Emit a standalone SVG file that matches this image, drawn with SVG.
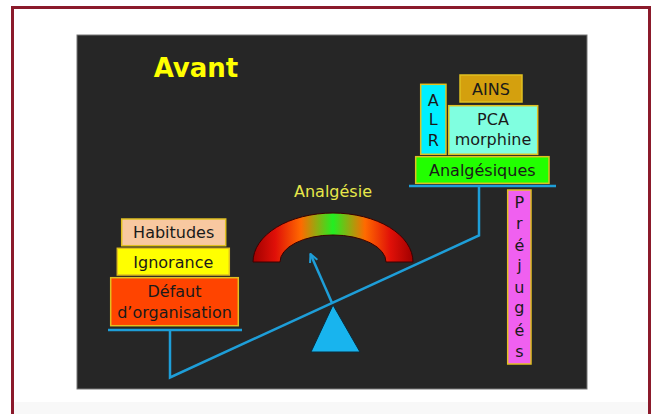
<svg xmlns="http://www.w3.org/2000/svg" width="653" height="414" viewBox="0 0 653 414">
<defs>
<style>
.box{stroke:#e0c020;stroke-width:1.5}
.t{font-family:"DejaVu Sans","Liberation Sans",sans-serif;font-size:16px;fill:#1a1a1a;text-anchor:middle}
.beam{stroke:#1e9ed8;stroke-width:2.5;fill:none}
</style>
<linearGradient id="g" x1="0" y1="0" x2="1" y2="0">
<stop offset="0" stop-color="#a00000"/>
<stop offset="0.14" stop-color="#e01008"/>
<stop offset="0.3" stop-color="#ff6a00"/>
<stop offset="0.5" stop-color="#22ee22"/>
<stop offset="0.7" stop-color="#ff6a00"/>
<stop offset="0.86" stop-color="#e01008"/>
<stop offset="1" stop-color="#a00000"/>
</linearGradient>
<marker id="arr" viewBox="0 0 10 10" refX="9" refY="5" markerWidth="4" markerHeight="4" orient="auto" markerUnits="strokeWidth">
<path d="M1,1 L9,5 L1,9" fill="none" stroke="#1e9ed8" stroke-width="2"/>
</marker>
</defs>
<rect x="0" y="0" width="653" height="414" fill="#ffffff"/>
<rect x="14" y="402" width="635" height="12" fill="#f8f8f8"/>
<rect x="12.5" y="7.5" width="637" height="430" fill="none" stroke="#8b1a2b" stroke-width="3"/>
<rect x="77" y="35" width="510" height="354" fill="#262626" stroke="#777" stroke-width="1"/>
<text x="196" y="77" font-family="DejaVu Sans,Liberation Sans,sans-serif" font-size="26" font-weight="bold" fill="#ffff00" text-anchor="middle">Avant</text>

<g id="gauge">
<path d="M253,262 A80,49 0 0 1 413,262 L386,262 A53,27 0 0 0 280,262 Z" fill="url(#g)" stroke="#3a0000" stroke-width="1"/>
<text x="333" y="197" font-family="DejaVu Sans,Liberation Sans,sans-serif" font-size="16" fill="#e8e84a" text-anchor="middle">Analgésie</text>
</g>

<g id="connectors">
<path class="beam" d="M108,330 H242"/>
<path class="beam" d="M170,330 V377.5 L479,235.5 V186"/>
<path class="beam" d="M409,186 H556"/>
<path class="beam" d="M332,303 L310.5,254" marker-end="url(#arr)"/>
</g>

<g id="fulcrum">
<polygon points="333,305 311,352 360,352" fill="#18b4ee" stroke="#0a2a3a" stroke-width="1"/>
</g>

<g id="habitudes">
<rect class="box" x="121.7" y="219" width="104" height="26.7" fill="#f8c8a0"/>
<text class="t" x="173.7" y="238">Habitudes</text>
</g>
<g id="ignorance">
<rect class="box" x="117.3" y="248.3" width="112" height="26.7" fill="#ffff00"/>
<text class="t" x="173.3" y="267.5">Ignorance</text>
</g>
<g id="defaut">
<rect class="box" x="110.7" y="277.7" width="127.6" height="48" fill="#ff4400"/>
<text class="t" x="174.5" y="296.5">Défaut</text>
<text class="t" x="174.5" y="318">d’organisation</text>
</g>

<g id="ains">
<rect class="box" x="460" y="75" width="62" height="27" fill="#d4a00e"/>
<text class="t" x="491" y="94.5">AINS</text>
</g>
<g id="alr">
<rect class="box" x="420.7" y="84.3" width="25.3" height="70" fill="#00f0ff"/>
<text class="t" x="433.3" y="105.5">A</text>
<text class="t" x="433.3" y="125">L</text>
<text class="t" x="433.3" y="146">R</text>
</g>
<g id="pca">
<rect class="box" x="448.7" y="105.7" width="89" height="48.6" fill="#80ffe0"/>
<text class="t" x="493" y="125">PCA</text>
<text class="t" x="493" y="145">morphine</text>
</g>
<g id="analgesiques">
<rect class="box" x="415.7" y="156.7" width="133.3" height="26.6" fill="#22ff00"/>
<text class="t" x="482.3" y="175.5">Analgésiques</text>
</g>
<g id="prejuges">
<rect class="box" x="507.7" y="190" width="23.3" height="174" fill="#f060f0"/>
<text class="t" x="519.4" y="208">P</text>
<text class="t" x="519.4" y="229">r</text>
<text class="t" x="519.4" y="251">é</text>
<text class="t" x="519.4" y="271">j</text>
<text class="t" x="519.4" y="293">u</text>
<text class="t" x="519.4" y="313">g</text>
<text class="t" x="519.4" y="336">é</text>
<text class="t" x="519.4" y="357">s</text>
</g>
</svg>
